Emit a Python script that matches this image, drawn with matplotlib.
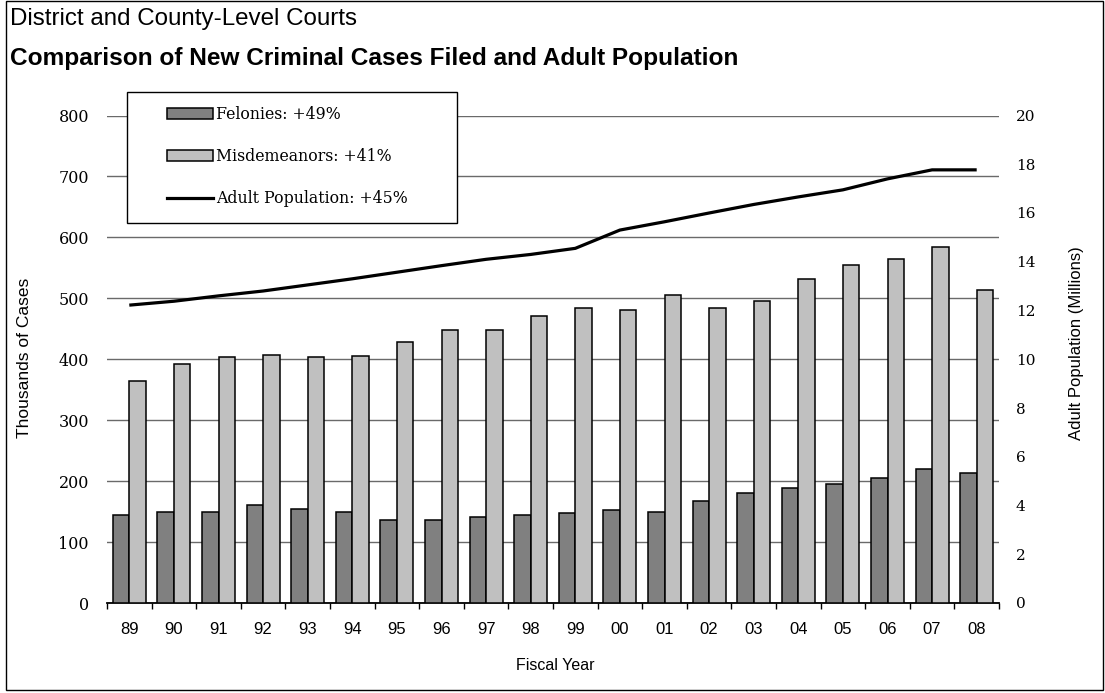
import numpy as np
import matplotlib
matplotlib.use("Agg")
import matplotlib.pyplot as plt
from matplotlib.patches import Patch, Rectangle
from matplotlib.lines import Line2D

# Fiscal years and filings (thousands of cases)
years = ["89", "90", "91", "92", "93", "94", "95", "96", "97", "98",
         "99", "00", "01", "02", "03", "04", "05", "06", "07", "08"]
felonies = [144, 150, 150, 161, 155, 150, 136, 136, 141, 144,
            148, 152, 150, 167, 181, 189, 195, 205, 220, 214]
misdemeanors = [364, 392, 403, 407, 403, 405, 428, 448, 448, 471,
                484, 481, 506, 484, 495, 532, 554, 565, 584, 514]
# Adult population (millions)
population = [12.22, 12.38, 12.6, 12.8, 13.05, 13.3, 13.57, 13.84, 14.1, 14.3,
              14.55, 15.3, 15.64, 16.0, 16.35, 16.66, 16.95, 17.4, 17.77, 17.77]

legend_labels = ["Felonies: +49%", "Misdemeanors: +41%", "Adult Population: +45%"]

W, H = 1105, 693
SANS = "Liberation Sans"
SERIF = "DejaVu Serif"

fig = plt.figure(figsize=(W / 100, H / 100), dpi=100)

# outer border
fig.patches.append(Rectangle((6 / W, 3 / H), 1097 / W, 689 / H, transform=fig.transFigure,
                             fill=False, edgecolor="black", lw=1.0))

fig.text(10 / W, 1 - 19 / H, "District and County-Level Courts", family=SANS,
         fontsize=17.4, va="center", ha="left")
fig.text(10 / W, 1 - 59 / H, "Comparison of New Criminal Cases Filed and Adult Population",
         family=SANS, fontsize=17.6, fontweight="bold", va="center", ha="left")

ax = fig.add_axes([107 / W, 1 - 603 / H, 892 / W, 487.5 / H])
x = np.arange(len(years))
bw = 0.37
ax.bar(x - bw / 2, felonies, width=bw, color="#808080", edgecolor="black", lw=1.1, zorder=3)
ax.bar(x + bw / 2, misdemeanors, width=bw, color="#C0C0C0", edgecolor="black", lw=1.1, zorder=3)

ax.set_xlim(-0.5, len(years) - 0.5)
ax.set_ylim(0, 800)
ax.set_yticks(np.arange(0, 801, 100))
ax.yaxis.grid(True, color="#6a6a6a", lw=1.0)
ax.set_axisbelow(True)
for s in ("left", "right", "top"):
    ax.spines[s].set_visible(False)
ax.spines["bottom"].set_linewidth(1.3)

ax.set_xticks(x)
ax.set_xticklabels(years, family=SANS, fontsize=12)
ax.set_xticks(np.arange(-0.5, len(years), 1.0), minor=True)
ax.tick_params(axis="x", which="major", length=0, pad=14)
ax.tick_params(axis="x", which="minor", length=4.5, width=1.0, direction="out")
ax.tick_params(axis="y", length=0, pad=13)
for lbl in ax.get_yticklabels():
    lbl.set_family(SERIF)
    lbl.set_fontsize(11.5)

ax2 = ax.twinx()
ax2.plot(x, population, color="black", lw=2.3, solid_joinstyle="round",
         solid_capstyle="butt", zorder=4)
ax2.set_ylim(0, 20)
ax2.set_yticks(np.arange(0, 21, 2))
ax2.tick_params(axis="y", length=0, pad=12)
for s in ("left", "right", "top", "bottom"):
    ax2.spines[s].set_visible(False)
for lbl in ax2.get_yticklabels():
    lbl.set_family(SERIF)
    lbl.set_fontsize(11)

fig.text(25 / W, 1 - 358 / H, "Thousands of Cases", family=SANS, fontsize=12.5,
         rotation=90, va="center", ha="center")
fig.text(1076 / W, 1 - 343 / H, "Adult Population (Millions)", family=SANS, fontsize=12,
         rotation=90, va="center", ha="center")
fig.text(555 / W, 1 - 665 / H, "Fiscal Year", family=SANS, fontsize=11.5,
         va="center", ha="center")

# legend box
fig.patches.append(Rectangle((127 / W, 1 - 223 / H), 330 / W, 131 / H, transform=fig.transFigure,
                             facecolor="white", edgecolor="black", lw=1.0, zorder=5))
handles = [Patch(facecolor="#808080", edgecolor="black", lw=1.1),
           Patch(facecolor="#C0C0C0", edgecolor="black", lw=1.1),
           Line2D([], [], color="black", lw=2.3)]
leg = fig.legend(handles, legend_labels, loc="upper left",
                 bbox_to_anchor=(167 / W, 1 - 106 / H), borderpad=0, borderaxespad=0,
                 frameon=False, handlelength=2.9, handleheight=0.75, handletextpad=0.25,
                 labelspacing=1.6, prop={"family": SERIF, "size": 11.3})
leg.set_zorder(6)

fig.savefig("out.png", dpi=100)
